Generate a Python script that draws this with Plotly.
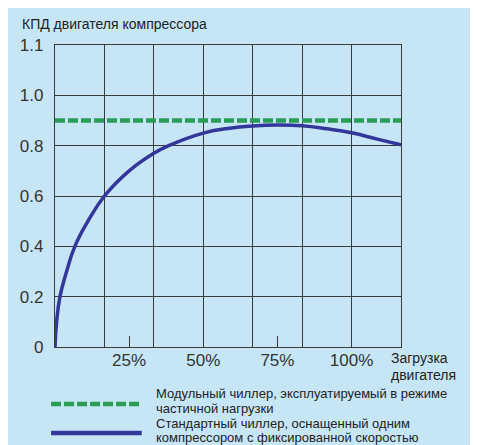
import plotly.graph_objects as go

# Data
load_pct = [0, 0.55, 1.67, 3.9, 6.7, 11.1, 16.67, 25, 33.33, 38.3, 50, 58.3, 66.67, 75, 83.33, 91.67, 100, 108.33, 116.67]
eff_standard = [0, 0.1, 0.2, 0.3, 0.4, 0.5, 0.6, 0.70, 0.77, 0.8, 0.85, 0.868, 0.878, 0.882, 0.879, 0.867, 0.851, 0.827, 0.803]
modular_level = 0.9
x_max = 116.67
y_tickvals = [0, 0.2, 0.4, 0.6, 0.8, 1.0, 1.2]
y_ticktext = ["0", "0.2", "0.4", "0.6", "0.8", "1.0", "1.1"]
x_tickvals = [25, 50, 75, 100]
x_ticktext = ["25%", "50%", "75%", "100%"]
x_grid = [50 / 3 * i for i in range(1, 7)]

title_text = "КПД двигателя компрессора"
xlabel_lines = ["Загрузка", "двигателя"]
leg_green_lines = ["Модульный чиллер, эксплуатируемый в режиме", "частичной нагрузки"]
leg_blue_lines = ["Стандартный чиллер, оснащенный одним", "компрессором с фиксированной скоростью"]

BG = "#c6e6f6"
GRID = "#3a3a3a"
BLUE = "#33379a"
GREEN = "#2a9c56"
FONT = "Liberation Sans, Arial, sans-serif"

OFF = 8  # page body margin
W, H = 470, 437
L, R, T, B = 42, 77, 37, 98
pw, ph = W - L - R, H - T - B

def px_x(p):  # screen pixel -> paper
    return (p - OFF - L) / pw

def px_y(p):
    return (H - B - (p - OFF)) / ph

fig = go.Figure()
fig.add_trace(go.Scatter(
    x=[0, x_max], y=[modular_level, modular_level], mode="lines",
    line=dict(color=GREEN, width=4.5, dash="10px,3px"), showlegend=False, hoverinfo="skip"))
fig.add_trace(go.Scatter(
    x=load_pct, y=eff_standard, mode="lines",
    line=dict(color=BLUE, width=3.5, shape="spline", smoothing=1.3),
    showlegend=False, hoverinfo="skip"))
fig.add_trace(go.Scatter(x=[0], y=[0], xaxis="x2", mode="markers",
                         marker=dict(opacity=0), showlegend=False, hoverinfo="skip"))

fig.update_layout(
    width=W, height=H,
    margin=dict(l=L, r=R, t=T, b=B),
    paper_bgcolor=BG, plot_bgcolor=BG,
    font=dict(family=FONT, color="#222"),
    xaxis=dict(range=[0, x_max], tickmode="array", tickvals=x_grid, showticklabels=False,
               showgrid=True, gridcolor=GRID, gridwidth=1.4, zeroline=False,
               showline=True, mirror=True, linecolor=GRID, linewidth=1.4, ticks=""),
    xaxis2=dict(range=[0, x_max], overlaying="x", anchor="y", side="bottom",
                tickmode="array", tickvals=x_tickvals, ticktext=x_ticktext,
                ticks="inside", ticklen=11, tickwidth=1.4, tickcolor=GRID,
                showgrid=False, zeroline=False, showline=False,
                tickfont=dict(size=17, color="#333", family=FONT), ticklabelstandoff=1),
    yaxis=dict(range=[0, 1.2], tickmode="array", tickvals=y_tickvals, ticktext=y_ticktext,
               showgrid=True, gridcolor=GRID, gridwidth=1.4, zeroline=False,
               showline=True, mirror=True, linecolor=GRID, linewidth=1.4, ticks="",
               tickfont=dict(size=17, color="#333", family=FONT), ticklabelstandoff=7),
)

# legend samples
fig.add_shape(type="line", xref="paper", yref="paper", x0=px_x(46), x1=px_x(138),
              y0=px_y(404), y1=px_y(404), line=dict(color=GREEN, width=4.5, dash="10px,3px"))
fig.add_shape(type="line", xref="paper", yref="paper", x0=px_x(46), x1=px_x(138),
              y0=px_y(433), y1=px_y(433), line=dict(color=BLUE, width=4.5))

def label(text, x, y, size):
    fig.add_annotation(text=text, xref="paper", yref="paper", x=px_x(x), y=px_y(y),
                       xanchor="left", yanchor="middle", align="left", showarrow=False,
                       font=dict(size=size, color="#222", family=FONT))

label(title_text, 15, 24, 14)
label(xlabel_lines[0], 389, 358, 14)
label(xlabel_lines[1], 389, 375, 14)
label(leg_green_lines[0], 150, 393, 13)
label(leg_green_lines[1], 150, 408, 13)
label(leg_blue_lines[0], 150, 423, 13)
label(leg_blue_lines[1], 150, 438, 13)

fig.write_html("out.html")
